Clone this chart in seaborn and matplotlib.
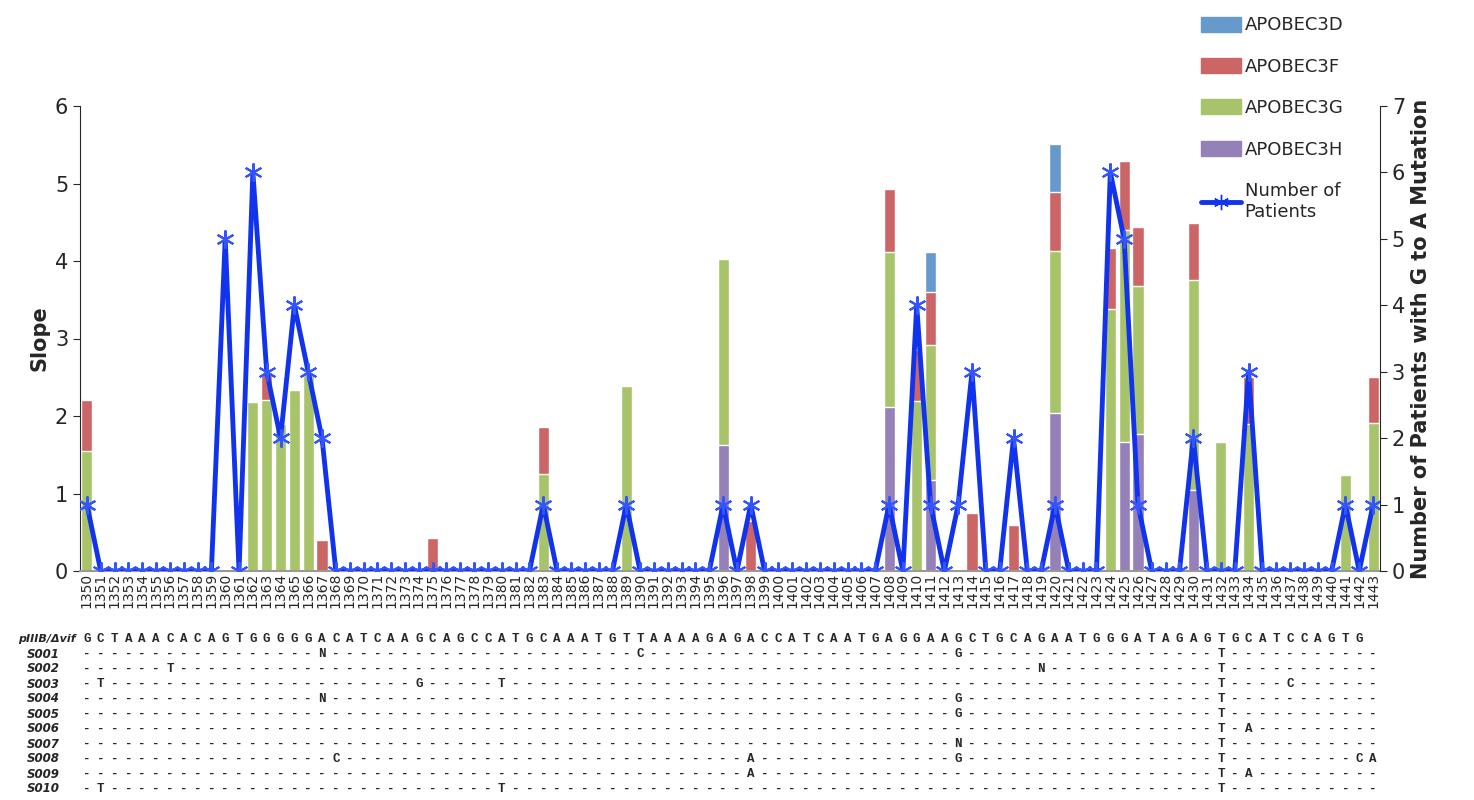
import numpy as np
import pandas as pd
import matplotlib
matplotlib.use("Agg")
import matplotlib.pyplot as plt
import matplotlib.transforms as mtransforms
from matplotlib.patches import Patch
from matplotlib.lines import Line2D
import seaborn as sns

positions = list(range(1350, 1444))

# slope contributions per APOBEC (sparse)
a3h = {1396: 1.63, 1408: 2.12, 1411: 1.17, 1420: 2.04, 1425: 1.67, 1426: 1.77, 1430: 1.04}
a3g = {1350: 1.55, 1362: 2.18, 1363: 2.21, 1364: 1.9, 1365: 2.33, 1366: 2.53, 1383: 1.25,
       1389: 2.39, 1396: 4.03, 1408: 4.11, 1410: 2.2, 1411: 2.92, 1420: 4.13, 1424: 3.38,
       1425: 4.4, 1426: 3.68, 1430: 3.75, 1432: 1.67, 1434: 1.9, 1441: 1.24, 1443: 1.91}
a3f = {1350: 2.21, 1363: 2.55, 1367: 0.4, 1375: 0.43, 1383: 1.86, 1398: 0.64, 1408: 4.93,
       1410: 2.85, 1411: 3.6, 1414: 0.75, 1417: 0.59, 1420: 4.89, 1424: 4.17, 1425: 5.29,
       1426: 4.44, 1430: 4.49, 1434: 2.5, 1443: 2.5}
a3d = {1411: 4.12, 1420: 5.51}
# number of patients (nonzero ones)
patients_nz = {1350: 1, 1360: 5, 1362: 6, 1363: 3, 1364: 2, 1365: 4, 1366: 3, 1367: 2,
               1383: 1, 1389: 1, 1396: 1, 1398: 1, 1408: 1, 1410: 4, 1411: 1, 1413: 1,
               1414: 3, 1417: 2, 1420: 1, 1424: 6, 1425: 5, 1426: 1, 1430: 2, 1434: 3,
               1441: 1, 1443: 1}

ref_seq = "GCTAAACACAGTGGGGGACATCAAGCAGCCATGCAAATGTTAAAAGAGACCATCAATGAGGAAGCTGCAGAATGGGATAGAGTGCATCCAGTG"
sample_names = ["S001", "S002", "S003", "S004", "S005", "S006", "S007", "S008", "S009", "S010"]
sample_muts = [
    {17: "N", 40: "C", 63: "G", 82: "T"},
    {6: "T", 69: "N", 82: "T"},
    {1: "T", 24: "G", 30: "T", 82: "T", 87: "C"},
    {17: "N", 63: "G", 82: "T"},
    {63: "G", 82: "T"},
    {82: "T", 84: "A"},
    {63: "N", 82: "T"},
    {18: "C", 48: "A", 63: "G", 82: "T", 92: "C", 93: "A"},
    {48: "A", 82: "T", 84: "A"},
    {1: "T", 30: "T", 82: "T"},
]

df = pd.DataFrame({"pos": [str(p) for p in positions]})
df["H"] = [a3h.get(p, 0) for p in positions]
df["G"] = [a3g.get(p, 0) for p in positions]
df["F"] = [a3f.get(p, 0) for p in positions]
df["D"] = [a3d.get(p, 0) for p in positions]
df["patients"] = [patients_nz.get(p, 0) for p in positions]
# cumulative tops: each layer shows at least the layer below
df["G"] = np.maximum(df["G"], df["H"])
df["F"] = np.maximum(df["F"], df["G"])
df["D"] = np.maximum(df["D"], df["F"])

cD, cF, cG, cH = "#6699CC", "#CC6666", "#A8C46A", "#9580B8"
line_c = "#1133EE"

sns.set_style("white")
fig = plt.figure(figsize=(14.74, 8), dpi=100)
ax = fig.add_axes([80 / 1474, 1 - 571 / 800, 1300 / 1474, 465 / 800])
for col, c in [("D", cD), ("F", cF), ("G", cG), ("H", cH)]:
    sns.barplot(data=df, x="pos", y=col, color=c, width=0.8, saturation=1, ax=ax)
ax.set_xlim(-0.5, len(positions) - 0.5)
ax.set_ylim(0, 6)
ax.set_xlabel("")
ax.set_ylabel("Slope", fontsize=15, fontweight="bold")
ax.tick_params(axis="x", rotation=90, labelsize=10, pad=1, length=0)
ax.tick_params(axis="y", labelsize=15, left=True, length=5)
for s in ["top", "right"]:
    ax.spines[s].set_visible(False)
ax.spines["bottom"].set_color("#999999")
ax.spines["bottom"].set_linewidth(1.5)

ax2 = ax.twinx()
ax2.plot(range(len(positions)), df["patients"], color=line_c, lw=3.5,
         marker=(6, 2, 0), ms=13, mec="#3355FF", mew=1.5)
ax2.set_ylim(0, 7)
ax2.set_ylabel("Number of Patients with G to A Mutation", fontsize=15, fontweight="bold")
ax2.tick_params(axis="y", labelsize=15, right=True, length=5)
for s in ["top", "left", "bottom"]:
    ax2.spines[s].set_visible(False)

handles = [Patch(color=cD, label="APOBEC3D"), Patch(color=cF, label="APOBEC3F"),
           Patch(color=cG, label="APOBEC3G"), Patch(color=cH, label="APOBEC3H"),
           Line2D([], [], color=line_c, lw=3.5, marker=(6, 2, 0), ms=11,
                  label="Number of\nPatients")]
fig.legend(handles=handles, loc="upper left", bbox_to_anchor=(1185 / 1474, 1.0),
           frameon=False, fontsize=13, handlelength=2.2, handleheight=0.9,
           labelspacing=1.3, handletextpad=0.2)

# sequence alignment table
trans = mtransforms.blended_transform_factory(ax.transData, fig.transFigure)
rows = [("pIIIB/Δvif", ref_seq)]
for name, muts in zip(sample_names, sample_muts):
    rows.append((name, "".join(muts.get(i, "-") for i in range(len(positions)))))
for r, (name, seq) in enumerate(rows):
    yy = 1 - (639 + r * 15) / 800
    fig.text(60 / 1474 if r else 76 / 1474, yy, name, ha="right", va="center",
             fontsize=8.5 if r else 8, fontweight="bold", style="italic")
    for i, ch in enumerate(seq):
        ax.text(i, yy, ch, transform=trans, ha="center", va="center",
                family="Liberation Mono", fontweight="bold", fontsize=9)

fig.savefig("out.png", dpi=100)
